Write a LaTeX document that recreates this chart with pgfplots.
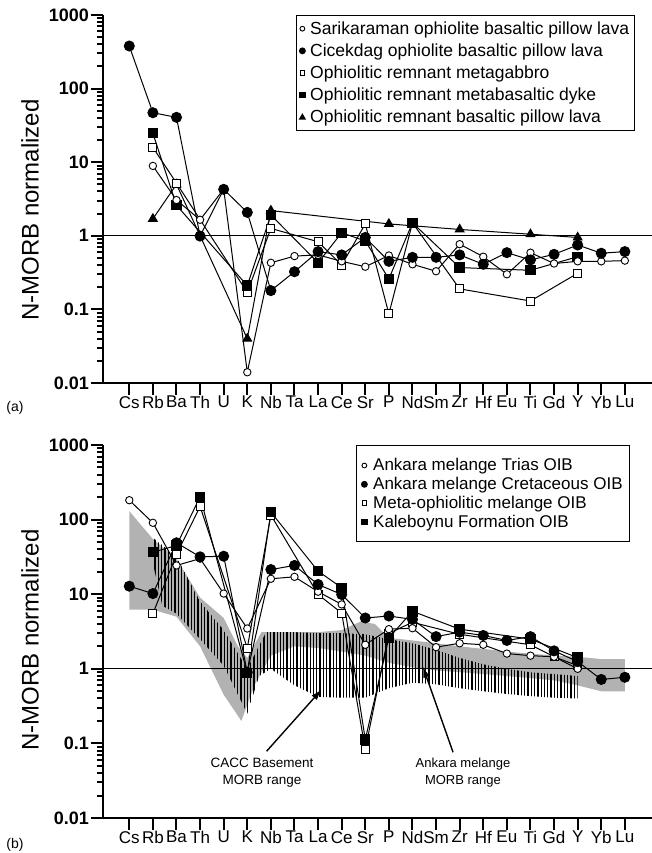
\documentclass[border=0pt]{standalone}
\usepackage{fontspec}
\setmainfont{Liberation Sans}
\usepackage{pgfplots}
\pgfplotsset{compat=1.18}
\usetikzlibrary{patterns.meta, arrows.meta}

\tikzset{
  mkln/.style={black, line width=1pt},
  mkoc/.style={mark=*, mark options={fill=white, draw=black, line width=0.9pt, solid}, mark size=3.7pt},
  mkfc/.style={mark=*, mark options={fill=black, draw=black, solid}, mark size=5pt},
  mkos/.style={mark=square*, mark options={fill=white, draw=black, line width=0.9pt, solid}, mark size=4pt},
  mkfs/.style={mark=square*, mark options={fill=black, draw=black, solid}, mark size=4.7pt},
  mkft/.style={mark=triangle*, mark options={fill=black, draw=black, solid}, mark size=5pt},
}

\begin{document}
\begin{tikzpicture}
\useasboundingbox (-103pt,-470pt) rectangle (549pt,383pt);

% ---------------- panel (a) ----------------
\begin{axis}[
    scale only axis, width=549pt, height=368pt, at={(0pt,0pt)}, anchor=south west,
    xmin=-0.114, xmax=23.15,
    ymode=log, ymin=0.01, ymax=1000,
    axis x line=bottom, axis y line=left,
    axis line style={-, line width=2.2pt},
    xtick={1,...,22},
    xticklabels={Cs,Rb,Ba,Th,U,K,Nb,Ta,La,Ce,Sr,P,Nd,Sm,Zr,Hf,Eu,Ti,Gd,Y,Yb,Lu},
    xticklabel style={font=\fontsize{17}{17}\selectfont, inner sep=1pt},
    ytick={0.01,0.1,1,10,100,1000},
    yticklabels={\textbf{0.01},\textbf{0.1},\textbf{1},\textbf{10},\textbf{100},\textbf{1000}},
    minor ytick={0.02,0.03,0.04,0.05,0.06,0.07,0.08,0.09,0.2,0.3,0.4,0.5,0.6,0.7,0.8,0.9,2,3,4,5,6,7,8,9,20,30,40,50,60,70,80,90,200,300,400,500,600,700,800,900},
    yticklabel style={font=\fontsize{18}{18}\selectfont, inner sep=2pt},
    tick align=outside,
    major tick length=12pt, minor tick length=6pt,
    tick style={black, line width=2pt},
    clip=false,
    legend cell align=left,
    legend style={at={(0.3515,1)}, anchor=north west, draw=black, line width=1.2pt,
      inner xsep=3pt, inner ysep=4pt,
      font=\fontsize{17.5}{17.5}\selectfont, row sep=4pt,
      /tikz/every odd column/.append style={column sep=3pt}},
  ]
\addlegendimage{black, only marks, mkoc, mark size=2.4pt}
\addlegendentry{Sarikaraman ophiolite basaltic pillow lava}
\addlegendimage{black, only marks, mkfc, mark size=2.8pt}
\addlegendentry{Cicekdag ophiolite basaltic pillow lava}
\addlegendimage{black, only marks, mkos, mark size=2.4pt}
\addlegendentry{Ophiolitic remnant metagabbro}
\addlegendimage{black, only marks, mkfs, mark size=2.6pt}
\addlegendentry{Ophiolitic remnant metabasaltic dyke}
\addlegendimage{black, only marks, mkft, mark size=3pt}
\addlegendentry{Ophiolitic remnant basaltic pillow lava}

\addplot[mkln, forget plot] coordinates {(-0.114,1) (23.15,1)};

% Ophiolitic remnant basaltic pillow lava
\addplot[mkln, mkft, forget plot] coordinates {(2,1.7) (3,5.0) (6,0.04) (7,2.2) (12,1.45) (15,1.22) (18,1.05) (20,0.95)};
% metagabbro
\addplot[mkln, mkos, forget plot] coordinates {(2,15.9) (3,5.2) (6,0.17) (7,1.26) (9,0.83) (10,0.40) (11,1.45) (12,0.087) (13,1.5) (15,0.19) (18,0.13) (20,0.31)};
% metabasaltic dyke
\addplot[mkln, mkfs, forget plot] coordinates {(2,24.7) (3,2.6) (6,0.21) (7,1.92) (9,0.43) (10,1.1) (11,0.85) (12,0.26) (13,1.5) (15,0.37) (18,0.34) (20,0.52)};
% Sarikaraman
\addplot[mkln, mkoc, forget plot] coordinates {(2,8.9) (3,3.06) (4,1.65) (5,4.3) (6,0.014) (7,0.43) (8,0.53) (9,0.55) (10,0.45) (11,0.38) (12,0.54) (13,0.41) (14,0.33) (15,0.77) (16,0.52) (17,0.30) (18,0.59) (19,0.42) (20,0.45) (21,0.45) (22,0.46)};
% Cicekdag
\addplot[mkln, mkfc, forget plot] coordinates {(1,379) (2,47) (3,40.7) (4,0.99) (5,4.28) (6,2.08) (7,0.18) (8,0.325) (9,0.61) (10,0.55) (11,0.95) (12,0.45) (13,0.51) (14,0.51) (15,0.55) (16,0.41) (17,0.59) (18,0.47) (19,0.56) (20,0.75) (21,0.58) (22,0.61)};

\node[font=\fontsize{24}{24}\selectfont, rotate=90] at (rel axis cs:-0.133,0.47) {N-MORB normalized};
\end{axis}

% ---------------- panel (b) ----------------
\begin{axis}[
    scale only axis, width=549pt, height=373pt, at={(0pt,-435pt)}, anchor=south west,
    xmin=-0.114, xmax=23.15,
    ymode=log, ymin=0.01, ymax=1000,
    axis x line=bottom, axis y line=left,
    axis line style={-, line width=2.2pt},
    xtick={1,...,22},
    xticklabels={Cs,Rb,Ba,Th,U,K,Nb,Ta,La,Ce,Sr,P,Nd,Sm,Zr,Hf,Eu,Ti,Gd,Y,Yb,Lu},
    xticklabel style={font=\fontsize{17}{17}\selectfont, inner sep=1pt},
    ytick={0.01,0.1,1,10,100,1000},
    yticklabels={\textbf{0.01},\textbf{0.1},\textbf{1},\textbf{10},\textbf{100},\textbf{1000}},
    minor ytick={0.02,0.03,0.04,0.05,0.06,0.07,0.08,0.09,0.2,0.3,0.4,0.5,0.6,0.7,0.8,0.9,2,3,4,5,6,7,8,9,20,30,40,50,60,70,80,90,200,300,400,500,600,700,800,900},
    yticklabel style={font=\fontsize{18}{18}\selectfont, inner sep=2pt},
    tick align=outside,
    major tick length=12pt, minor tick length=6pt,
    tick style={black, line width=2pt},
    clip=false,
    legend cell align=left,
    legend style={at={(0.4608,1)}, anchor=north west, draw=black, line width=1.2pt,
      inner xsep=5pt, inner ysep=11pt,
      font=\fontsize{17}{17}\selectfont, row sep=1pt,
      /tikz/every odd column/.append style={column sep=4pt}},
  ]
\addlegendimage{black, only marks, mkoc, mark size=2.4pt}
\addlegendentry{Ankara melange Trias OIB}
\addlegendimage{black, only marks, mkfc, mark size=2.8pt}
\addlegendentry{Ankara melange Cretaceous OIB}
\addlegendimage{black, only marks, mkos, mark size=2.4pt}
\addlegendentry{Meta-ophiolitic melange OIB}
\addlegendimage{black, only marks, mkfs, mark size=2.6pt}
\addlegendentry{Kaleboynu Formation OIB}

% Ankara melange MORB range (stippled)
\addplot[fill=black!30, draw=none, forget plot] coordinates {
 (1,130) (2,55) (3,30) (4,9) (5,4.8) (5.6,2) (6,1.4) (6.6,3.1) (7,3.1) (8,3.1) (9,3.1) (10,3.3) (10.8,4.3) (11.4,4.0) (12,2.6) (13,2.4) (14,2.2) (15,2.0) (16,1.85) (17,1.7) (18,1.6) (19,1.5) (20,1.45) (21,1.35) (22,1.35)
 (22,0.5) (21,0.5) (20,0.6) (19,0.7) (18,0.75) (17,0.8) (16,0.85) (15,0.9) (14,0.95) (13,1.05) (12,1.2) (11,1.5) (10,1.7) (9,1.9) (8,2.0) (7,1.5) (6.3,0.6) (5.75,0.2) (5,0.45) (4,2.0) (3,5) (2,6.2) (1,6.2)} -- cycle;
% CACC Basement MORB range (vertical hatching)
\addplot[pattern={Lines[angle=90, distance=3.3pt, line width=1.3pt]}, draw=none, forget plot] coordinates {
 (2,57) (3,32) (4,8) (5,3.3) (6,1.0) (6.8,3.1) (7,3.1) (8,3.1) (9,3.0) (10,3.0) (11,2.9) (12,2.5) (13,2.2) (14,1.8) (15,1.4) (16,1.15) (17,1.0) (18,0.9) (19,0.85) (20,0.8)
 (20,0.4) (19,0.41) (18,0.43) (17,0.46) (16,0.5) (15,0.55) (14,0.62) (13,0.65) (12,0.55) (11,0.41) (10,0.41) (9,0.42) (8,0.6) (7,1.0) (6.5,0.8) (6,0.25) (5,1.1) (4,2.5) (3,5.5) (2.4,7) (2,26)} -- cycle;

\addplot[mkln, forget plot] coordinates {(-0.114,1) (23.15,1)};

% Meta-ophiolitic melange OIB
\addplot[mkln, mkos, forget plot] coordinates {(2,5.5) (3,34) (4,150) (6,1.9) (7,115) (9,9.9) (10,5.6) (11,0.083) (12,3.0) (13,4.2) (15,2.9) (18,2.1) (19,1.45) (20,1.1)};
% Kaleboynu Formation OIB
\addplot[mkln, mkfs, forget plot] coordinates {(2,36.5) (3,45) (4,202) (6,0.88) (7,126) (9,20.4) (10,12.2) (11,0.113) (12,2.6) (13,5.9) (15,3.4) (18,2.5) (20,1.41)};
% Ankara melange Trias OIB
\addplot[mkln, mkoc, forget plot] coordinates {(1,182) (2,90.6) (3,24.3) (4,30) (5,10.2) (6,3.47) (7,16.1) (8,17.1) (9,10.8) (10,7.3) (11,2.1) (12,3.4) (13,3.5) (14,1.95) (15,2.2) (16,2.1) (17,1.6) (18,1.5) (19,1.45) (20,1.0)};
% Ankara melange Cretaceous OIB
\addplot[mkln, mkfc, forget plot] coordinates {(1,12.8) (2,10.2) (3,48.9) (4,31.7) (5,32.3) (6,0.9) (7,21.4) (8,24.3) (9,13.5) (10,9.9) (11,4.8) (12,5.1) (13,4.6) (14,2.7) (15,3.1) (16,2.8) (17,2.4) (18,2.7) (19,1.74) (20,1.25) (21,0.72) (22,0.77)};

\draw[line width=1.4pt, -{Latex[length=11pt,width=7pt]}] (axis cs:6.82,0.0786) -- (axis cs:9.15,0.528);
\draw[line width=1.4pt, -{Latex[length=11pt,width=7pt]}] (axis cs:14.72,0.076) -- (axis cs:13.44,1.07);
\node[font=\fontsize{13.5}{17}\selectfont, align=center] at (axis cs:6.62,0.0407) {CACC Basement\\MORB range};
\node[font=\fontsize{13}{17}\selectfont, align=center] at (axis cs:15.14,0.0407) {Ankara melange\\MORB range};

\node[font=\fontsize{24}{24}\selectfont, rotate=90] at (rel axis cs:-0.133,0.477) {N-MORB normalized};
\end{axis}

\node[font=\fontsize{14}{14}\selectfont] at (-88pt,-25pt) {(a)};
\node[font=\fontsize{14}{14}\selectfont] at (-88pt,-462pt) {(b)};
\end{tikzpicture}
\end{document}
